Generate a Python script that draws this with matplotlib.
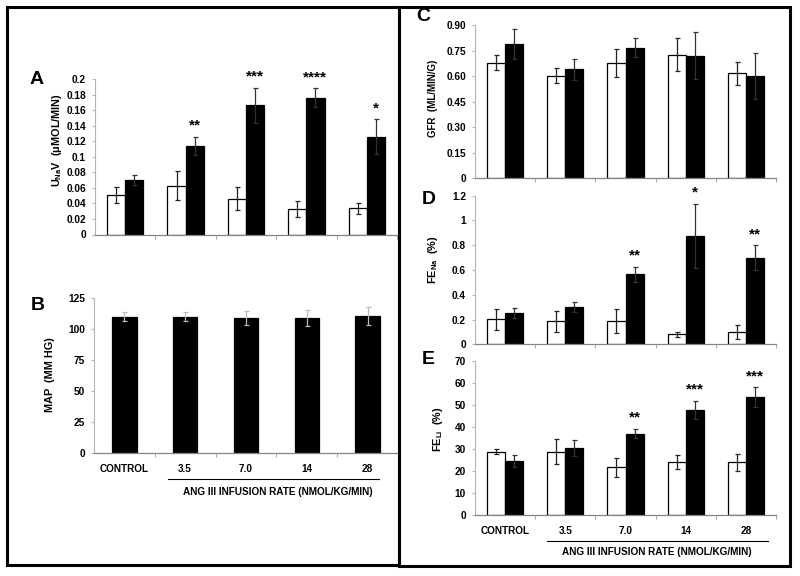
import numpy as np
import matplotlib
matplotlib.use('Agg')
import matplotlib.pyplot as plt
from matplotlib.patches import Rectangle

plt.rcParams['font.family'] = ['Liberation Sans', 'DejaVu Sans']
plt.rcParams['font.weight'] = 'bold'
plt.rcParams['mathtext.fontset'] = 'custom'
plt.rcParams['mathtext.rm'] = 'Liberation Sans:bold'
plt.rcParams['mathtext.bf'] = 'Liberation Sans:bold'

groups = ['CONTROL', '3.5', '7.0', '14', '28']

# A: urinary sodium excretion (umol/min)
una_veh = [0.051, 0.063, 0.046, 0.033, 0.034]
una_veh_err = [0.010, 0.019, 0.015, 0.010, 0.007]
una_ang = [0.070, 0.114, 0.166, 0.176, 0.126]
una_ang_err = [0.006, 0.012, 0.023, 0.012, 0.022]
una_sig = ['', '**', '***', '****', '*']

# B: mean arterial pressure (mm Hg)
map_ang = [110.2, 110.0, 108.8, 108.8, 110.7]
map_err = [3.4, 3.6, 5.8, 6.5, 7.3]

# C: GFR (ml/min/g)
gfr_veh = [0.679, 0.603, 0.679, 0.726, 0.616]
gfr_veh_err = [0.046, 0.045, 0.083, 0.096, 0.068]
gfr_ang = [0.787, 0.640, 0.767, 0.720, 0.601]
gfr_ang_err = [0.087, 0.063, 0.055, 0.139, 0.137]

# D: fractional sodium excretion (%)
fena_veh = [0.202, 0.186, 0.186, 0.081, 0.097]
fena_veh_err = [0.086, 0.085, 0.097, 0.022, 0.055]
fena_ang = [0.253, 0.304, 0.565, 0.877, 0.700]
fena_ang_err = [0.043, 0.040, 0.062, 0.260, 0.100]
fena_sig = ['', '', '**', '*', '**']

# E: fractional lithium excretion (%)
feli_veh = [28.8, 28.8, 21.6, 24.0, 23.9]
feli_veh_err = [1.3, 5.6, 4.3, 3.3, 3.8]
feli_ang = [24.5, 30.6, 37.0, 47.8, 53.6]
feli_ang_err = [2.7, 3.7, 2.1, 4.1, 4.6]
feli_sig = ['', '', '**', '***', '***']

W, H = 800, 576
fig = plt.figure(figsize=(W / 100, H / 100), dpi=100)
x = np.arange(len(groups))


def add_ax(left, right, top, bottom):
    # axes box given in pixels of the final image
    return fig.add_axes([left / W, 1 - bottom / H, (right - left) / W, (bottom - top) / H])


def style(ax, ylim, yticks, yticklabels, show_x=False):
    ax.set_xlim(-0.5, 4.5)
    ax.set_ylim(*ylim)
    for s in ['top', 'right']:
        ax.spines[s].set_visible(False)
    ax.spines['left'].set_color('#b5b5b5')
    ax.spines['left'].set_linewidth(0.8)
    ax.spines['bottom'].set_color('#858585')
    ax.spines['bottom'].set_linewidth(0.9)
    ax.set_yticks(yticks)
    ax.set_yticklabels(yticklabels, fontsize=7.3)
    ax.tick_params(axis='y', length=2.5, color='#b5b5b5', pad=4)
    ax.set_xticks(x)
    ax.set_xticklabels(groups if show_x else [], fontsize=7.2)
    ax.tick_params(axis='x', which='major', length=0, pad=8)
    ax.set_xticks(np.arange(0.5, 5, 1), minor=True)
    ax.tick_params(axis='x', which='minor', length=3, color='#999999')


def paired(ax, veh, veh_err, ang, ang_err, sig=None):
    ax.bar(x - 0.15, veh, 0.3, color='white', edgecolor='black', linewidth=0.9, zorder=2)
    ax.bar(x + 0.15, ang, 0.3, color='black', edgecolor='black', linewidth=0.9, zorder=2)
    ax.errorbar(x - 0.15, veh, yerr=veh_err, fmt='none', ecolor='#222222',
                elinewidth=0.9, capsize=1.8, capthick=0.9, zorder=3)
    ax.errorbar(x + 0.15, ang, yerr=ang_err, fmt='none', ecolor='#333333',
                elinewidth=0.9, capsize=1.8, capthick=0.9, zorder=3)
    if sig:
        for i, s in enumerate(sig):
            if s:
                ax.annotate(s, (x[i] + 0.15, ang[i] + ang_err[i]), xytext=(0, 3),
                            textcoords='offset points', ha='center', va='bottom',
                            fontsize=11, annotation_clip=False)


def infusion_label(ax, x0, x1, yline, ytext):
    tr = ax.get_xaxis_transform()
    ax.plot([x0, x1], [yline, yline], color='black', lw=0.8, transform=tr, clip_on=False)
    ax.text((0.5 + 4.5) / 2 + 0.02, ytext, 'ANG III INFUSION RATE (NMOL/KG/MIN)', transform=tr,
            ha='center', va='center', fontsize=7.2)


def ftext(px, py, s, **kw):
    fig.text(px / W, 1 - py / H, s, ha='center', va='center', **kw)


# Panel A
axA = add_ax(95, 397, 79, 234.5)
paired(axA, una_veh, una_veh_err, una_ang, una_ang_err, una_sig)
style(axA, (0, 0.2), np.arange(0, 0.201, 0.02),
      ['0', '0.02', '0.04', '0.06', '0.08', '0.1', '0.12', '0.14', '0.16', '0.18', '0.2'])
ftext(57, 140, r'U$_{\mathrm{Na}}$V  (μMOL/MIN)', rotation=90, fontsize=7.8)
ftext(36.5, 80, 'A', fontsize=14)

# Panel B
axB = add_ax(94, 398, 298.3, 452.7)
axB.bar(x, map_ang, 0.4, color='black', edgecolor='black', linewidth=0.9, zorder=2)
axB.errorbar(x, map_ang, yerr=map_err, fmt='none', ecolor='#bbbbbb',
             elinewidth=0.9, capsize=1.8, capthick=0.9, zorder=3)
style(axB, (0, 125), np.arange(0, 126, 25), ['0', '25', '50', '75', '100', '125'], show_x=True)
infusion_label(axB, 0.72, 4.19, -0.168, -0.255)
ftext(50, 374.5, 'MAP  (MM HG)', rotation=90, fontsize=7.8)
ftext(37.5, 306, 'B', fontsize=14)

# Panel C
axC = add_ax(475, 776, 25, 178.3)
paired(axC, gfr_veh, gfr_veh_err, gfr_ang, gfr_ang_err)
style(axC, (0, 0.9), np.arange(0, 0.91, 0.15),
      ['0', '0.15', '0.30', '0.45', '0.60', '0.75', '0.90'])
ftext(433, 98, 'GFR  (ML/MIN/G)', rotation=90, fontsize=7.0)
ftext(423, 16.5, 'C', fontsize=14)

# Panel D
axD = add_ax(475, 776, 195.7, 344.3)
paired(axD, fena_veh, fena_veh_err, fena_ang, fena_ang_err, fena_sig)
style(axD, (0, 1.2), np.arange(0, 1.21, 0.2), ['0', '0.2', '0.4', '0.6', '0.8', '1', '1.2'])
ftext(433, 259.5, r'FE$_{\mathrm{Na}}$  (%)', rotation=90, fontsize=7.8)
ftext(429, 199, 'D', fontsize=14)

# Panel E
axE = add_ax(475, 776, 361.3, 514.7)
paired(axE, feli_veh, feli_veh_err, feli_ang, feli_ang_err, feli_sig)
style(axE, (0, 70), np.arange(0, 71, 10), [str(v) for v in range(0, 71, 10)], show_x=True)
infusion_label(axE, 0.69, 4.36, -0.171, -0.241)
ftext(438, 429.5, r'FE$_{\mathrm{Li}}$  (%)', rotation=90, fontsize=7.8)
ftext(428, 360, 'E', fontsize=14)

# Outer frames
fig.add_artist(Rectangle((6.5 / W, 1 - 565 / H), (398.5 - 6.5) / W, (565 - 6.5) / H,
                         transform=fig.transFigure, fill=False, lw=2.2, ec='black'))
fig.add_artist(Rectangle((398.5 / W, 1 - 566 / H), (790 - 398.5) / W, (566 - 6.5) / H,
                         transform=fig.transFigure, fill=False, lw=2.2, ec='black'))

fig.savefig('out.png', dpi=100)
